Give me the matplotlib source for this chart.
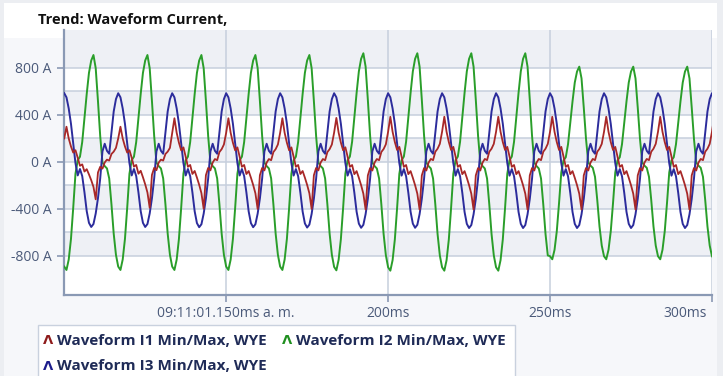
import numpy as np
import matplotlib
matplotlib.use("Agg")
import matplotlib.pyplot as plt
from matplotlib.patches import Rectangle
from matplotlib.transforms import ScaledTranslation

# ---------------- data ----------------
title = "Trend: Waveform Current,"
series_names = ["Waveform I1 Min/Max, WYE", "Waveform I2 Min/Max, WYE", "Waveform I3 Min/Max, WYE"]
series_colors = ["#a82828", "#2a9e2a", "#2c2c9c"]
marker_colors = ["#8e1b1b", "#1f8f1f", "#1c1c8c"]

x_ticks_ms = [150, 200, 250, 300]
x_tick_labels = ["09:11:01.150ms a. m.", "200ms", "250ms", "300ms"]
y_ticks = [-800, -400, 0, 400, 800]
y_tick_labels = ["-800 A", "-400 A", "0 A", "400 A", "800 A"]
y_minor = [-600, -200, 200, 600]

first_cycle_ms = 100.07     # first I3 peak
cycle_ms = 16.66            # one mains cycle

# one cycle, sampled every 1/24 cycle starting at the I3 peak (A)
i1_cycle = [250, 375, 250, 165, 100, 125, 45, -40, -25, -100, -75, -130,
            -190, -260, -390, -110, -50, -70, -5, 25, 15, 85, 110, 150]
i2_cycle = [-890, -919, -830, -655, -390, -100, 15, 45, 170, 380, 580, 760,
            865, 912, 800, 520, 220, -5, -35, -55, -140, -360, -610, -790]
i3_cycle = [585, 550, 455, 325, 160, -10, -115, -60, -120, -260, -420, -520,
            -555, -530, -440, -310, -140, 90, 155, 95, 70, 250, 430, 535]

# per-cycle peak / trough values (A)
i1_peaks = [300, 300, 372, 372, 372, 375, 385, 385, 385, 385, 385, 385, 385]
i1_troughs = [-318, -390, -398, -400, -400, -405, -405, -405, -405, -405, -405, -405, -405]
i2_peaks = [910, 910, 910, 910, 910, 925, 925, 925, 925, 811, 811, 811, 811]
i2_troughs = [-919, -919, -919, -919, -919, -922, -925, -925, -925, -828, -828, -828, -828]
i3_peaks = [585, 585, 585, 585, 585, 585, 585, 585, 585, 585, 585, 585, 585]
i3_troughs = [-553, -553, -555, -555, -558, -560, -560, -562, -562, -562, -562, -562, -562]


def build(cycle, peaks, troughs):
    c = np.asarray(cycle, float)
    cmax, cmin = c.max(), c.min()
    parts = [np.where(c >= 0, c * p / cmax, c * tr / cmin) for p, tr in zip(peaks, troughs)]
    return np.concatenate(parts)


n_samples = len(i1_peaks) * len(i1_cycle)
t = first_cycle_ms + np.arange(n_samples) * cycle_ms / len(i1_cycle)
i1 = build(i1_cycle, i1_peaks, i1_troughs)
i2 = build(i2_cycle, i2_peaks, i2_troughs)
i3 = build(i3_cycle, i3_peaks, i3_troughs)

# ---------------- figure ----------------
W, H = 723, 376
fig = plt.figure(figsize=(W / 100, H / 100), dpi=100)
fig.patch.set_facecolor("#eceef2")

def fx(x):
    return x / W

def fy(y):
    return 1 - y / H

# panels
fig.patches.append(Rectangle((fx(4), fy(376)), fx(717) - fx(4), fy(3) - fy(376),
                             transform=fig.transFigure, facecolor="#f6f7fa", edgecolor="none", zorder=-10))
fig.patches.append(Rectangle((fx(4), fy(38)), fx(717) - fx(4), fy(3) - fy(38),
                             transform=fig.transFigure, facecolor="white", edgecolor="none", zorder=-9))

FONT = ["Open Sans", "DejaVu Sans"]
fig.text(fx(38), fy(20), title, fontsize=10.5, fontweight="bold", color="#111111",
         family=FONT, va="center", ha="left", zorder=5)

ax = fig.add_axes([fx(64), fy(295), fx(712) - fx(64), fy(30) - fy(295)])
ax.set_zorder(2)
ax.set_facecolor("white")
ax.set_xlim(100, 300)
ax.set_ylim(-1132, 1123)

band = "#eef0f5"
for lo, hi in [(800, 1200), (400, 600), (0, 200), (-400, -200), (-800, -600)]:
    ax.axhspan(lo, hi, color=band, zorder=0, lw=0)

grid_c = "#c6cfdd"
for v in y_ticks + y_minor:
    ax.axhline(v, color=grid_c, lw=1.1, zorder=1)
for v in x_ticks_ms:
    ax.axvline(v, color=grid_c, lw=1.1, zorder=1)

ax.plot(t, i2, color=series_colors[1], lw=1.4, zorder=3)
ax.plot(t, i3, color=series_colors[2], lw=1.4, zorder=4)
ax.plot(t, i1, color=series_colors[0], lw=1.3, zorder=5)

axis_c = "#8a99b4"
for s in ["top", "right"]:
    ax.spines[s].set_visible(False)
for s in ["left", "bottom"]:
    ax.spines[s].set_color(axis_c)
    ax.spines[s].set_linewidth(1.6)

ax.set_yticks(y_ticks)
ax.set_yticklabels(y_tick_labels)
ax.set_xticks(x_ticks_ms)
ax.set_xticklabels(x_tick_labels)
ax.tick_params(axis="both", colors=axis_c, length=5, width=1.2, labelcolor="#4b5a7a", labelsize=10)
ax.tick_params(axis="y", pad=4)
ax.tick_params(axis="x", pad=3)
for lab in ax.get_xticklabels() + ax.get_yticklabels():
    lab.set_family(FONT)
last = ax.get_xticklabels()[-1]
last.set_horizontalalignment("right")
last.set_transform(last.get_transform() + ScaledTranslation(-5 / 100, 0, fig.dpi_scale_trans))

# legend box
fig.patches.append(Rectangle((fx(38), fy(377)), fx(515) - fx(38), fy(325) - fy(377),
                             transform=fig.transFigure, facecolor="white", edgecolor="#c9d1de",
                             lw=1.0, zorder=3))
legend_pos = [(48, 341), (287, 341), (48, 366)]
for (x, y), name, mc in zip(legend_pos, series_names, marker_colors):
    fig.text(fx(x), fy(y), "Λ", color=mc, fontsize=9.5, fontweight="bold",
             family=["DejaVu Sans"], ha="center", va="center", zorder=6)
    fig.text(fx(x + 9), fy(y), name, color="#1f2b57", fontsize=11, fontweight="bold",
             family=FONT, ha="left", va="center", zorder=6)

fig.savefig("out.png", dpi=100, facecolor=fig.get_facecolor())
